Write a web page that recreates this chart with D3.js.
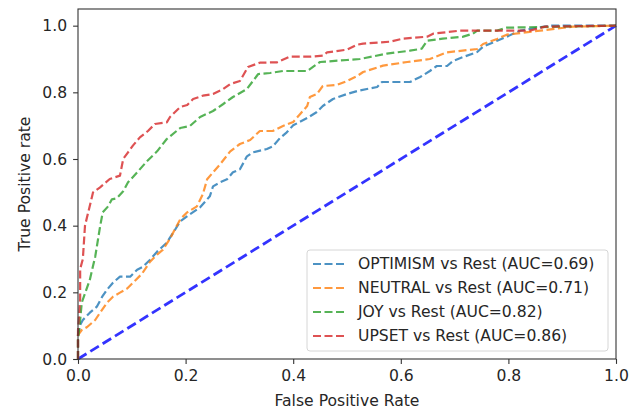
<!DOCTYPE html>
<html lang="en">
  <head>
    <meta charset="UTF-8" />
    <title>ROC curves</title>
    <script src="https://d3js.org/d3.v7.min.js"></script>
    <style>
      body { margin: 0; background: #fff; }
      text { font-family: "DejaVu Sans", sans-serif; fill: #262626; }
    </style>
  </head>

  <body>
    <svg width="642" height="409"></svg>

    <script>
      // ROC points: [fpr, tpr]
      const optimismRoc = [[0,0],[0,0.072],[0.004,0.102],[0.009,0.117],[0.022,0.139],[0.035,0.157],[0.045,0.187],[0.054,0.208],[0.065,0.229],[0.078,0.247],[0.097,0.247],[0.11,0.268],[0.121,0.277],[0.134,0.298],[0.147,0.322],[0.165,0.349],[0.177,0.379],[0.19,0.413],[0.208,0.434],[0.227,0.455],[0.245,0.488],[0.251,0.518],[0.264,0.53],[0.277,0.539],[0.288,0.56],[0.301,0.569],[0.314,0.608],[0.325,0.62],[0.351,0.63],[0.362,0.638],[0.375,0.662],[0.388,0.68],[0.4,0.701],[0.426,0.723],[0.444,0.741],[0.455,0.759],[0.474,0.78],[0.5,0.795],[0.519,0.804],[0.556,0.816],[0.565,0.831],[0.617,0.831],[0.636,0.846],[0.654,0.864],[0.667,0.879],[0.686,0.879],[0.697,0.894],[0.716,0.906],[0.742,0.921],[0.753,0.937],[0.779,0.955],[0.797,0.967],[0.822,0.985],[0.877,1.0],[1,1]];
      const neutralRoc = [[0,0],[0,0.072],[0.007,0.087],[0.017,0.096],[0.032,0.117],[0.041,0.139],[0.054,0.169],[0.065,0.187],[0.078,0.199],[0.091,0.211],[0.106,0.235],[0.119,0.256],[0.134,0.292],[0.147,0.313],[0.158,0.328],[0.171,0.361],[0.19,0.419],[0.203,0.44],[0.221,0.458],[0.232,0.494],[0.24,0.539],[0.251,0.56],[0.264,0.584],[0.283,0.623],[0.301,0.645],[0.32,0.657],[0.338,0.684],[0.362,0.684],[0.381,0.699],[0.4,0.711],[0.413,0.735],[0.426,0.759],[0.431,0.786],[0.444,0.795],[0.455,0.819],[0.481,0.822],[0.5,0.834],[0.519,0.849],[0.53,0.861],[0.567,0.88],[0.612,0.891],[0.654,0.9],[0.686,0.92],[0.742,0.93],[0.753,0.945],[0.779,0.96],[0.797,0.973],[0.859,0.985],[0.92,0.997],[1,1]];
      const joyRoc = [[0,0],[0,0.057],[0.004,0.117],[0.007,0.169],[0.022,0.238],[0.032,0.307],[0.041,0.397],[0.046,0.44],[0.056,0.458],[0.063,0.479],[0.072,0.482],[0.084,0.503],[0.093,0.53],[0.11,0.56],[0.128,0.593],[0.147,0.623],[0.165,0.66],[0.19,0.693],[0.208,0.699],[0.227,0.726],[0.251,0.744],[0.27,0.765],[0.288,0.786],[0.314,0.81],[0.335,0.855],[0.357,0.858],[0.381,0.864],[0.426,0.864],[0.44,0.88],[0.45,0.891],[0.5,0.897],[0.524,0.9],[0.574,0.916],[0.617,0.925],[0.639,0.931],[0.649,0.955],[0.678,0.961],[0.716,0.967],[0.734,0.976],[0.742,0.985],[0.779,0.985],[0.797,0.994],[1,1]];
      const upsetRoc = [[0,0],[0,0.087],[0.004,0.18],[0.004,0.27],[0.009,0.3],[0.013,0.4],[0.022,0.46],[0.028,0.5],[0.041,0.515],[0.059,0.54],[0.078,0.55],[0.084,0.6],[0.093,0.62],[0.102,0.64],[0.115,0.665],[0.13,0.684],[0.143,0.705],[0.165,0.71],[0.171,0.726],[0.19,0.756],[0.203,0.762],[0.214,0.78],[0.232,0.79],[0.251,0.795],[0.27,0.81],[0.283,0.825],[0.301,0.834],[0.316,0.876],[0.338,0.889],[0.37,0.89],[0.394,0.907],[0.431,0.907],[0.455,0.91],[0.463,0.92],[0.5,0.928],[0.519,0.943],[0.53,0.946],[0.58,0.952],[0.604,0.961],[0.649,0.967],[0.66,0.976],[0.71,0.985],[0.84,0.985],[0.868,0.997],[1,1]];
      const chanceLine = [[0,0],[1,1]];

      const classNames = ["OPTIMISM", "NEUTRAL", "JOY", "UPSET"];
      const aucValues = [0.69, 0.71, 0.82, 0.86];
      const classColors = ["#1f77b4", "#ff7f0e", "#2ca02c", "#d62728"];
      const rocCurves = [optimismRoc, neutralRoc, joyRoc, upsetRoc];

      const xTicks = [0, 0.2, 0.4, 0.6, 0.8, 1.0];
      const yTicks = [0, 0.2, 0.4, 0.6, 0.8, 1.0];

      const fontSize = "15.6px";

      const svg = d3.select("svg");
      const margin = { left: 78, right: 26, top: 9, bottom: 50 };
      const width = 642 - margin.left - margin.right;
      const height = 409 - margin.top - margin.bottom;

      const x = d3.scaleLinear().domain([0, 1]).range([margin.left, margin.left + width]);
      const y = d3.scaleLinear().domain([0, 1.05]).range([margin.top + height, margin.top]);

      const line = d3.line()
        .x(d => x(d[0]))
        .y(d => y(d[1]));

      // chance diagonal
      svg.append("path")
        .datum(chanceLine)
        .attr("d", line)
        .attr("fill", "none")
        .attr("stroke", "#0000ff")
        .attr("stroke-opacity", 0.8)
        .attr("stroke-width", 2.8)
        .attr("stroke-dasharray", "10,4.5");

      // roc curves
      svg.append("g")
        .selectAll("path")
        .data(rocCurves)
        .enter()
        .append("path")
        .attr("d", line)
        .attr("fill", "none")
        .attr("stroke", (d, i) => classColors[i])
        .attr("stroke-opacity", 0.8)
        .attr("stroke-width", 2.2)
        .attr("stroke-linejoin", "round")
        .attr("stroke-dasharray", "8,3.5");

      // axes
      const xAxis = svg.append("g")
        .attr("transform", `translate(0,${margin.top + height})`)
        .call(d3.axisBottom(x).tickValues(xTicks).tickFormat(d3.format(".1f")).tickSize(4.9).tickPadding(6));
      const yAxis = svg.append("g")
        .attr("transform", `translate(${margin.left},0)`)
        .call(d3.axisLeft(y).tickValues(yTicks).tickFormat(d3.format(".1f")).tickSize(4.9).tickPadding(6));

      [xAxis, yAxis].forEach(g => {
        g.select(".domain").remove();
        g.selectAll("line").attr("stroke", "#333").attr("stroke-width", 1.1);
        g.selectAll("text").attr("font-size", fontSize).attr("fill", "#262626")
          .style("font-family", "DejaVu Sans, sans-serif");
      });

      // frame
      svg.append("rect")
        .attr("x", margin.left)
        .attr("y", margin.top)
        .attr("width", width)
        .attr("height", height)
        .attr("fill", "none")
        .attr("stroke", "#333")
        .attr("stroke-width", 1.1);

      // axis titles
      svg.append("text")
        .attr("x", margin.left + width / 2)
        .attr("y", 406)
        .attr("text-anchor", "middle")
        .attr("font-size", fontSize)
        .text("False Positive Rate");
      svg.append("text")
        .attr("transform", `translate(30,${margin.top + height / 2}) rotate(-90)`)
        .attr("text-anchor", "middle")
        .attr("font-size", fontSize)
        .text("True Positive rate");

      // legend
      const legend = svg.append("g").attr("transform", "translate(307,250)");
      legend.append("rect")
        .attr("width", 301)
        .attr("height", 101)
        .attr("rx", 3)
        .attr("fill", "#fff")
        .attr("fill-opacity", 0.8)
        .attr("stroke", "#d6d6d6")
        .attr("stroke-width", 1);
      const rows = legend.selectAll("g.row")
        .data(classNames)
        .enter()
        .append("g")
        .attr("class", "row")
        .attr("transform", (d, i) => `translate(0,${14 + i * 24})`);
      rows.append("line")
        .attr("x1", 6).attr("x2", 38)
        .attr("stroke", (d, i) => classColors[i])
        .attr("stroke-opacity", 0.8)
        .attr("stroke-width", 2.2)
        .attr("stroke-dasharray", "8,3.5");
      rows.append("text")
        .attr("x", 51)
        .attr("dy", "0.35em")
        .attr("font-size", fontSize)
        .text((d, i) => `${d} vs Rest (AUC=${aucValues[i].toFixed(2)})`);
    </script>
  </body>
</html>
